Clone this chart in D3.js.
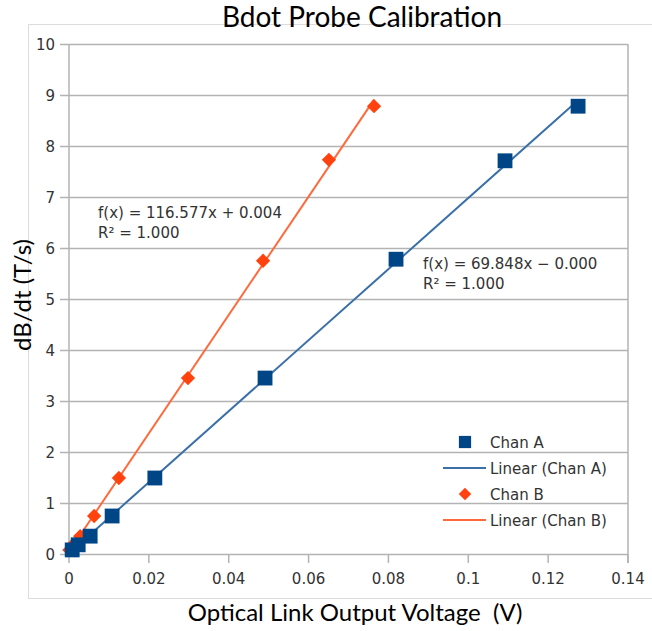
<!DOCTYPE html>
<html>
<head>
<meta charset="utf-8">
<script src="https://cdn.jsdelivr.net/npm/d3@7"></script>
<style>
  body { margin: 0; background: #fff; }
</style>
</head>
<body>
<svg width="652" height="631"></svg>
<script>
// data
let chanAx = [0.0008, 0.0023, 0.0053, 0.0108, 0.0215, 0.0491, 0.0819, 0.1092, 0.1275];
let chanAy = [0.08, 0.18, 0.35, 0.745, 1.49, 3.45, 5.78, 7.71, 8.78];
let chanBx = [0.0001, 0.001, 0.0028, 0.0063, 0.0125, 0.0298, 0.0486, 0.0651, 0.0764];
let chanBy = [0.08, 0.18, 0.35, 0.745, 1.49, 3.45, 5.75, 7.73, 8.78];
let xTicks = [0, 0.02, 0.04, 0.06, 0.08, 0.1, 0.12, 0.14];
let yTicks = [0, 1, 2, 3, 4, 5, 6, 7, 8, 9, 10];
let fitLabels = [
    ["f(x) = 116.577x + 0.004", "R² = 1.000"],
    ["f(x) = 69.848x − 0.000", "R² = 1.000"]
];
let legendLabels = ["Chan A", "Linear (Chan A)", "Chan B", "Linear (Chan B)"];

let svg = d3.select("svg");

let blue = "#004586", blueLine = "#3a6fa8";
let orange = "#ff420e", orangeLine = "#ff6a3d";
let grid = "#b3b3b3";
let tickFont = "'DejaVu Sans', sans-serif";

// outer chart border
svg.append("rect")
    .attr("x", 28.5).attr("y", 24.5)
    .attr("width", 640).attr("height", 574)
    .attr("fill", "none")
    .attr("stroke", "#dcdcdc");

let x = d3.scaleLinear().domain([0, 0.14]).range([69, 628]);
let y = d3.scaleLinear().domain([0, 10]).range([554, 44]);

// horizontal grid
svg.append("g")
    .selectAll("line")
    .data(yTicks)
    .enter()
    .append("line")
    .attr("x1", x(0) - 9).attr("x2", x(0.14))
    .attr("y1", d => Math.round(y(d)) + 0.5)
    .attr("y2", d => Math.round(y(d)) + 0.5)
    .attr("stroke", grid)
    .attr("stroke-width", 1.5);

// frame: left & right
svg.append("line")
    .attr("x1", x(0)).attr("x2", x(0))
    .attr("y1", y(10)).attr("y2", y(0))
    .attr("stroke", grid).attr("stroke-width", 1.5);
svg.append("line")
    .attr("x1", x(0.14)).attr("x2", x(0.14))
    .attr("y1", y(10)).attr("y2", y(0) + 9)
    .attr("stroke", grid).attr("stroke-width", 1.5);

// x ticks
svg.append("g")
    .selectAll("line")
    .data(xTicks)
    .enter()
    .append("line")
    .attr("x1", d => x(d)).attr("x2", d => x(d))
    .attr("y1", y(0)).attr("y2", y(0) + 9)
    .attr("stroke", grid).attr("stroke-width", 1.5);

// tick labels
svg.append("g")
    .selectAll("text")
    .data(yTicks)
    .enter()
    .append("text")
    .attr("x", 55)
    .attr("y", d => y(d) + 5.5)
    .attr("text-anchor", "end")
    .style("font-family", tickFont)
    .style("font-size", "15px")
    .style("fill", "#333")
    .text(d => d);

svg.append("g")
    .selectAll("text")
    .data(xTicks)
    .enter()
    .append("text")
    .attr("x", d => x(d))
    .attr("y", 584)
    .attr("text-anchor", "middle")
    .style("font-family", tickFont)
    .style("font-size", "15px")
    .style("fill", "#333")
    .text(d => d3.format("~g")(d));

// least squares trendline
function fit(xs, ys) {
    let mx = d3.mean(xs), my = d3.mean(ys);
    let sxy = d3.sum(xs, (v, i) => (v - mx) * (ys[i] - my));
    let sxx = d3.sum(xs, v => (v - mx) * (v - mx));
    let m = sxy / sxx;
    return [m, my - m * mx];
}

let series = [
    { xs: chanBx, ys: chanBy, dot: orange, line: orangeLine, sym: d3.symbolDiamond2, size: 130 },
    { xs: chanAx, ys: chanAy, dot: blue, line: blueLine, sym: d3.symbolSquare2, size: 280 }
];

series.forEach(s => {
    let [m, b] = fit(s.xs, s.ys);
    let x0 = 0, x1 = d3.max(s.xs);
    svg.append("line")
        .attr("x1", x(x0)).attr("y1", y(m * x0 + b))
        .attr("x2", x(x1)).attr("y2", y(m * x1 + b))
        .attr("stroke", s.line)
        .attr("stroke-width", 2);
});

series.forEach(s => {
    svg.append("g")
        .selectAll("path")
        .data(s.xs)
        .enter()
        .append("path")
        .attr("transform", (d, i) => "translate(" + x(d) + "," + y(s.ys[i]) + ")")
        .attr("d", d3.symbol().type(s.sym).size(s.size)())
        .attr("fill", s.dot);
});

// fit labels
let fitPos = [[98, 218], [423, 269]];
fitLabels.forEach((lines, k) => {
    lines.forEach((t, j) => {
        svg.append("text")
            .attr("x", fitPos[k][0])
            .attr("y", fitPos[k][1] + j * 20)
            .style("font-family", tickFont)
            .style("font-size", "15px")
            .style("fill", "#333")
            .text(t);
    });
});

// legend
let legend = svg.append("g").attr("transform", "translate(0, 442)");
legendLabels.forEach((t, i) => {
    let ly = i * 26;
    if (i === 0) {
        legend.append("path")
            .attr("transform", "translate(465," + ly + ")")
            .attr("d", d3.symbol().type(d3.symbolSquare2).size(190)())
            .attr("fill", blue);
    } else if (i === 2) {
        legend.append("path")
            .attr("transform", "translate(465," + ly + ")")
            .attr("d", d3.symbol().type(d3.symbolDiamond2).size(100)())
            .attr("fill", orange);
    } else {
        legend.append("line")
            .attr("x1", 443).attr("x2", 486)
            .attr("y1", ly).attr("y2", ly)
            .attr("stroke", i === 1 ? blueLine : orangeLine)
            .attr("stroke-width", 2);
    }
    legend.append("text")
        .attr("x", 490)
        .attr("y", ly + 5.5)
        .style("font-family", tickFont)
        .style("font-size", "15px")
        .style("fill", "#333")
        .text(t);
});

// titles
svg.append("text")
    .attr("x", 362)
    .attr("y", 27)
    .attr("text-anchor", "middle")
    .style("font-family", "Lato, sans-serif")
    .style("font-size", "28px")
    .style("fill", "#000")
    .text("Bdot Probe Calibration");

svg.append("text")
    .attr("x", 355)
    .attr("y", 621)
    .attr("text-anchor", "middle")
    .style("font-family", "Lato, sans-serif")
    .style("font-size", "24px")
    .style("fill", "#000")
    .style("white-space", "pre")
    .text("Optical Link Output Voltage  (V)");

svg.append("text")
    .attr("transform", "translate(31, 295) rotate(-90)")
    .attr("text-anchor", "middle")
    .style("font-family", "Lato, sans-serif")
    .style("font-size", "24px")
    .style("fill", "#000")
    .text("dB/dt (T/s)");
</script>
</body>
</html>
